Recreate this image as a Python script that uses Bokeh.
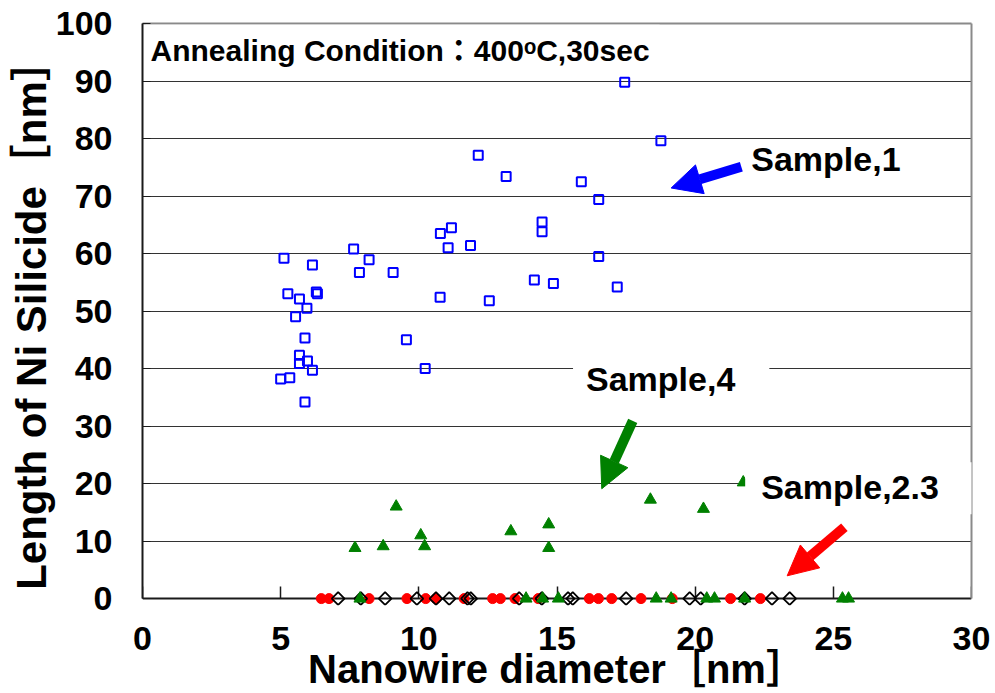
import math
from bokeh.plotting import figure
from bokeh.models import Range1d, FixedTicker, LinearAxis, Label, Arrow, NormalHead
from bokeh.embed import file_html
from bokeh.resources import INLINE

# ---------------- data ----------------
x_ticks = [0, 5, 10, 15, 20, 25, 30]
y_ticks = [0, 10, 20, 30, 40, 50, 60, 70, 80, 90, 100]
grid_ticks = [10, 20, 30, 40, 50, 60, 70, 80, 90]

# Sample,1 (blue open squares)
sample1_x = [17.45, 18.76, 12.15, 13.16, 15.88, 16.51, 14.46, 14.46, 11.18, 10.78,
             11.06, 11.87, 7.64, 8.20, 7.85, 9.07, 5.12, 6.15, 6.29, 6.33,
             5.26, 5.68, 5.95, 5.54, 5.88, 5.68, 5.68, 5.97, 6.15, 5.33,
             5.00, 5.88, 9.55, 10.23, 10.77, 12.55, 14.18, 14.87, 16.51, 17.18]
sample1_y = [89.8, 79.6, 77.1, 73.4, 72.5, 69.4, 65.5, 63.8, 64.5, 63.5,
             61.0, 61.4, 60.8, 58.9, 56.7, 56.7, 59.2, 58.0, 53.3, 53.0,
             53.0, 52.1, 50.5, 49.0, 45.3, 42.3, 40.9, 41.3, 39.7, 38.4,
             38.2, 34.2, 45.0, 40.0, 52.4, 51.8, 55.4, 54.8, 59.5, 54.2]

# Sample,4 (green triangles)
sample4_x = [7.69, 8.71, 9.18, 10.07, 10.21, 13.33, 14.70, 14.70, 18.38, 20.30, 21.74,
             7.87, 13.88, 14.48, 15.05, 18.59, 19.13, 20.42, 20.70, 21.79, 25.33, 25.55]
sample4_y = [8.8, 9.1, 16.0, 11.0, 9.1, 11.7, 12.9, 8.8, 17.2, 15.6, 20.2,
             0, 0, 0, 0, 0, 0, 0, 0, 0, 0, 0]

# Sample,2 (red filled circles)
sample2_x = [6.47, 6.75, 8.20, 9.57, 10.25, 10.62, 11.64, 12.67, 12.95, 13.48,
             14.32, 16.17, 16.50, 16.98, 18.04, 19.17, 21.28, 22.36]
sample2_y = [0, 0, 0, 0, 0, 0, 0, 0, 0, 0,
             0, 0, 0, 0, 0, 0, 0, 0]

# Sample,3 (black open diamonds)
sample3_x = [7.08, 7.90, 8.78, 9.93, 10.62, 11.10, 11.76, 11.88, 13.63, 14.45,
             15.40, 15.57, 17.50, 19.80, 20.20, 21.79, 22.78, 23.42]
sample3_y = [0, 0, 0, 0, 0, 0, 0, 0, 0, 0,
             0, 0, 0, 0, 0, 0, 0, 0]

x_title = "Nanowire diameter［nm］"
y_title = "Length of Ni Silicide［nm］"

FONT = "'Liberation Sans', Arial, 'Noto Sans CJK JP', sans-serif"

p = figure(width=995, height=693, output_backend="svg", toolbar_location=None,
           x_range=Range1d(0, 30), y_range=Range1d(-1.2, 100),
           min_border_left=142, min_border_right=24, min_border_top=23, min_border_bottom=87,
           background_fill_color="white", border_fill_color="white",
           outline_line_color=None)

# bottom axis: tick labels and title (placed in the panel below the frame)
xl = p.xaxis[0]
xl.ticker = FixedTicker(ticks=x_ticks)
xl.axis_line_color = None
xl.major_tick_line_color = None
xl.minor_tick_line_color = None
xl.major_tick_in = 0
xl.major_tick_out = 0
xl.major_label_text_font = FONT
xl.major_label_text_font_size = "34px"
xl.major_label_text_font_style = "bold"
xl.major_label_text_color = "black"
xl.major_label_standoff = 21
xl.axis_label = x_title
xl.axis_label_text_font = FONT
xl.axis_label_text_font_size = "40px"
xl.axis_label_text_font_style = "bold"
xl.axis_label_text_color = "black"
xl.axis_label_standoff = -6

# bottom axis line + inward ticks at y=0, drawn beneath the markers
xa = LinearAxis(ticker=FixedTicker(ticks=x_ticks), fixed_location=0, level="underlay",
                axis_line_color="#1a1a1a", axis_line_width=2,
                major_tick_line_color="#1a1a1a", major_tick_line_width=1.5,
                major_tick_in=12, major_tick_out=0, minor_tick_line_color=None,
                major_label_text_color=None)
p.add_layout(xa, "below")

ya = p.yaxis[0]
ya.ticker = FixedTicker(ticks=y_ticks)
ya.bounds = (0, 100)
ya.axis_line_color = "#1a1a1a"
ya.axis_line_width = 2
ya.major_tick_line_color = "#1a1a1a"
ya.major_tick_in = 8
ya.major_tick_out = 0
ya.minor_tick_line_color = None
ya.major_label_text_font = FONT
ya.major_label_text_font_size = "34px"
ya.major_label_text_font_style = "bold"
ya.major_label_text_color = "black"
ya.major_label_standoff = 30
ya.axis_label = y_title
ya.axis_label_text_font = FONT
ya.axis_label_text_font_size = "42px"
ya.axis_label_text_font_style = "bold"
ya.axis_label_text_color = "black"
ya.axis_label_standoff = -2

p.xgrid.visible = False
p.ygrid.ticker = FixedTicker(ticks=grid_ticks)
p.ygrid.grid_line_color = "#333333"
p.ygrid.grid_line_width = 1

# gray top and right frame lines
right_axis = LinearAxis(ticker=FixedTicker(ticks=[]), bounds=(0, 100),
                        axis_line_color="#8a8a8a", axis_line_width=2,
                        major_tick_line_color=None, minor_tick_line_color=None,
                        major_label_text_color=None)
p.add_layout(right_axis, "right")
top_axis = LinearAxis(ticker=FixedTicker(ticks=[]),
                      axis_line_color="#8a8a8a", axis_line_width=2,
                      major_tick_line_color=None, minor_tick_line_color=None,
                      major_label_text_color=None)
p.add_layout(top_axis, "above")

# markers
p.scatter(sample2_x, sample2_y, marker="circle", size=10,
          fill_color="#FF0000", line_color="#FF0000")
p.scatter(sample3_x, sample3_y, marker="square", angle=math.pi / 4, size=9,
          fill_color=None, line_color="black", line_width=1.8)
p.scatter(sample4_x, sample4_y, marker="triangle", size=12,
          fill_color="#008000", line_color="#008000")
p.scatter(sample1_x, sample1_y, marker="square", size=9,
          fill_color=None, line_color="#0000FF", line_width=2)

# arrows
for (xs, ys, xe, ye, c) in [(21.67, 75.1, 19.13, 71.4, "#0000FF"),
                            (17.74, 30.9, 16.62, 19.1, "#008000"),
                            (25.40, 12.4, 23.33, 3.96, "#FF0000")]:
    p.add_layout(Arrow(end=NormalHead(size=30, fill_color=c, line_color=c),
                       x_start=xs, y_start=ys, x_end=xe, y_end=ye,
                       line_color=c, line_width=10))

# labels
def lab(x, y, text, size, pad=None):
    kw = dict(x=x, y=y, text=text, text_font=FONT, text_font_size=size,
              text_font_style="bold", text_color="black", text_baseline="alphabetic")
    if pad is not None:
        kw.update(background_fill_color="white", padding=pad)
    p.add_layout(Label(**kw))

lab(0.11, 95.6, "Annealing Condition：400ᵒC,30sec", "30px",
    dict(left=5, right=10, top=9, bottom=6))
lab(22.03, 76.5, "Sample,1", "34px")
lab(15.58, 38.1, "Sample,4", "34px", dict(left=13, right=34, top=6, bottom=6))
lab(21.81, 19.2, "Sample,2.3", "34px", dict(left=16, right=40, top=6, bottom=8))

open("out.html", "w").write(file_html(p, INLINE))
